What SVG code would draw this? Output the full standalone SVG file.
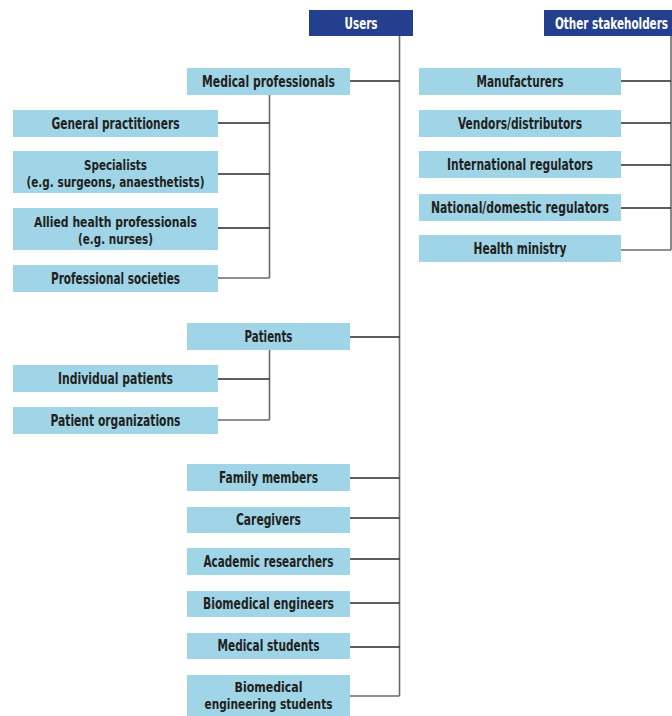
<svg xmlns="http://www.w3.org/2000/svg" width="672" height="716" viewBox="0 0 672 716">
<style>
.box{fill:#9fd5e7}
.hdr{fill:#243f8e}
.t{font-family:"DejaVu Sans Condensed","DejaVu Sans",sans-serif;font-stretch:condensed;font-weight:bold;font-size:15px;fill:#231f20;text-anchor:middle}
.t2{font-size:13.5px}
.th{font-family:"DejaVu Sans Condensed","DejaVu Sans",sans-serif;font-stretch:condensed;font-weight:bold;font-size:15px;fill:#ffffff;text-anchor:middle}
.c{stroke:#2a2a2a;stroke-width:1.6;fill:none}
.v{stroke:#6a6a6a;stroke-width:1.6;fill:none}
</style>
<rect width="672" height="716" fill="#ffffff"/>
<g id="connectors">
<path class="v" d="M399.5 36V696"/>
<path class="c" d="M350 81H399.5M350 337H399.5M350 478H399.5M350 518H399.5M350 559H399.5M350 603H399.5M350 647H399.5"/>
<path class="v" d="M350 696H399.5"/>
<path class="v" d="M269.5 95V278"/>
<path class="c" d="M218 123H269.5M218 174H269.5M218 228H269.5"/>
<path class="v" d="M218 278H269.5"/>
<path class="v" d="M269.5 350V420"/>
<path class="c" d="M218 379H269.5"/>
<path class="v" d="M218 420H269.5"/>
<path class="v" d="M671 36V250"/>
<path class="c" d="M621 81H671M621 123H671M621 165H671M621 208H671"/>
<path class="v" d="M621 250H671"/>
</g>
<g id="users"><rect class="hdr" x="309" y="10" width="104" height="26"/><text class="th" x="361" y="29" textLength="33" lengthAdjust="spacingAndGlyphs">Users</text></g>
<g id="other-stakeholders"><rect class="hdr" x="544" y="10" width="140" height="26"/><text class="th" x="611.5" y="29" textLength="113" lengthAdjust="spacingAndGlyphs">Other stakeholders</text></g>
<g id="medical-professionals"><rect class="box" x="187" y="68" width="163" height="27"/><text class="t" x="268.5" y="87" textLength="133" lengthAdjust="spacingAndGlyphs">Medical professionals</text></g>
<g id="general-practitioners"><rect class="box" x="13" y="110" width="205" height="27"/><text class="t" x="115.5" y="129" textLength="128" lengthAdjust="spacingAndGlyphs">General practitioners</text></g>
<g id="specialists"><rect class="box" x="13" y="151" width="205" height="42"/><text class="t t2" x="115.5" y="170" textLength="63" lengthAdjust="spacingAndGlyphs">Specialists</text><text class="t t2" x="115.5" y="187" textLength="178" lengthAdjust="spacingAndGlyphs">(e.g. surgeons, anaesthetists)</text></g>
<g id="allied-health"><rect class="box" x="13" y="208" width="205" height="42"/><text class="t t2" x="115.5" y="227" textLength="163" lengthAdjust="spacingAndGlyphs">Allied health professionals</text><text class="t t2" x="115.5" y="244" textLength="75" lengthAdjust="spacingAndGlyphs">(e.g. nurses)</text></g>
<g id="professional-societies"><rect class="box" x="13" y="265" width="205" height="27"/><text class="t" x="115.5" y="284" textLength="129" lengthAdjust="spacingAndGlyphs">Professional societies</text></g>
<g id="patients"><rect class="box" x="187" y="323" width="163" height="27"/><text class="t" x="268.5" y="342" textLength="48" lengthAdjust="spacingAndGlyphs">Patients</text></g>
<g id="individual-patients"><rect class="box" x="13" y="365" width="205" height="27"/><text class="t" x="115.5" y="384" textLength="115" lengthAdjust="spacingAndGlyphs">Individual patients</text></g>
<g id="patient-organizations"><rect class="box" x="13" y="407" width="205" height="27"/><text class="t" x="115.5" y="426" textLength="130" lengthAdjust="spacingAndGlyphs">Patient organizations</text></g>
<g id="family-members"><rect class="box" x="187" y="464" width="163" height="27"/><text class="t" x="268.5" y="483" textLength="99" lengthAdjust="spacingAndGlyphs">Family members</text></g>
<g id="caregivers"><rect class="box" x="187" y="507" width="163" height="26"/><text class="t" x="268.5" y="525" textLength="65" lengthAdjust="spacingAndGlyphs">Caregivers</text></g>
<g id="academic-researchers"><rect class="box" x="187" y="548" width="163" height="27"/><text class="t" x="268.5" y="567" textLength="130" lengthAdjust="spacingAndGlyphs">Academic researchers</text></g>
<g id="biomedical-engineers"><rect class="box" x="187" y="591" width="163" height="26"/><text class="t" x="268.5" y="609" textLength="131" lengthAdjust="spacingAndGlyphs">Biomedical engineers</text></g>
<g id="medical-students"><rect class="box" x="187" y="633" width="163" height="26"/><text class="t" x="268.5" y="651" textLength="102" lengthAdjust="spacingAndGlyphs">Medical students</text></g>
<g id="biomedical-engineering-students"><rect class="box" x="187" y="675" width="163" height="41"/><text class="t t2" x="268.5" y="692" textLength="68" lengthAdjust="spacingAndGlyphs">Biomedical</text><text class="t t2" x="268.5" y="709" textLength="128" lengthAdjust="spacingAndGlyphs">engineering students</text></g>
<g id="manufacturers"><rect class="box" x="419" y="68" width="202" height="27"/><text class="t" x="520" y="87" textLength="87" lengthAdjust="spacingAndGlyphs">Manufacturers</text></g>
<g id="vendors"><rect class="box" x="419" y="110" width="202" height="27"/><text class="t" x="520" y="129" textLength="124" lengthAdjust="spacingAndGlyphs">Vendors/distributors</text></g>
<g id="international-regulators"><rect class="box" x="419" y="151" width="202" height="27"/><text class="t" x="520" y="170" textLength="146" lengthAdjust="spacingAndGlyphs">International regulators</text></g>
<g id="national-regulators"><rect class="box" x="419" y="194" width="202" height="27"/><text class="t" x="520" y="213" textLength="178" lengthAdjust="spacingAndGlyphs">National/domestic regulators</text></g>
<g id="health-ministry"><rect class="box" x="419" y="235" width="202" height="27"/><text class="t" x="520" y="254" textLength="93" lengthAdjust="spacingAndGlyphs">Health ministry</text></g>
</svg>
